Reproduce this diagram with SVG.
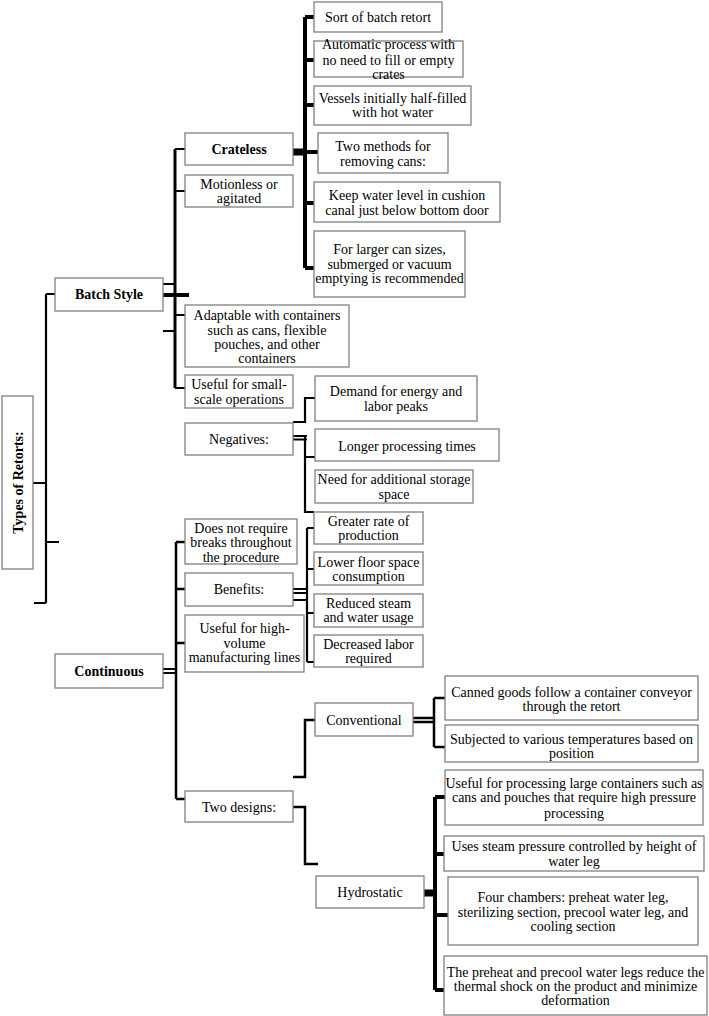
<svg xmlns="http://www.w3.org/2000/svg" width="709" height="1016" viewBox="0 0 709 1016">
<style>
.b{fill:#fff;stroke:#808080;stroke-width:1.3}
.t{font-family:"Liberation Serif","Times New Roman",serif;font-size:14px;fill:#000;text-anchor:middle}
.h{font-weight:bold}
.c{fill:none;stroke:#000;stroke-width:2.2;stroke-linejoin:miter;stroke-linecap:butt}
.k{stroke-width:4}
.m{stroke-width:3}
</style>
<rect width="709" height="1016" fill="#fff"/>
<g id="connectors">
<!-- root -->
<path class="c" d="M33,483H46M46,294V603M46,294H55M34,603H46M46,542H59"/>
<!-- batch style -->
<path class="c" d="M163,284H175M163,331H175M175,388H185M175,149H185M175,191H185M175,315H185"/>
<path class="c k" d="M163,295H189"/>
<path class="c m" d="M175,149V388"/>
<!-- crateless -->
<rect x="293" y="148.5" width="13" height="7" fill="#000"/>
<path class="c k" d="M305,17V268M305,17H314M305,60H314M305,105H314M305,152H318M305,203H314M305,268H314"/>
<!-- negatives -->
<path class="c" d="M293,422H305V398H315M293,436H307M293,439.5H307M305,436V512H314M305,457H315"/>
<!-- benefits -->
<path class="c" d="M293,589H306M293,593H306M293,600H306M307,528V662M307,528H314M307,569H314M307,613H314M307,662H314"/>
<!-- continuous -->
<path class="c" d="M163,669H176M163,673H176"/>
<path class="c" d="M176,542V799M176,542H185M176,589H185M176,643H185M176,799H185" style="stroke-width:2.5"/>
<!-- conventional -->
<path class="c" d="M293,777H305V720H315M413,718H434M413,722H434M434,698V747M434,698H445M434,747H445" style="stroke-width:2.5"/>
<!-- two designs -->
<path class="c" d="M293,807H305V864H318" style="stroke-width:2.5"/>
<!-- hydrostatic -->
<rect x="424" y="889.5" width="12" height="7" fill="#000"/>
<path class="c k" d="M435,797V990M435,797H445M435,854H444M435,915H448M435,990H444"/>
</g>
<g id="types">
<rect class="b" x="2" y="396" width="31" height="173"/>
<text class="t h" transform="translate(22.5,482.5) rotate(-90)">Types of Retorts:</text>
</g>
<g id="batch-style">
<rect class="b" x="55" y="278" width="108" height="33"/>
<text class="t h" x="109" y="299">Batch Style</text>
</g>
<g id="crateless">
<rect class="b" x="185" y="133" width="108" height="32"/>
<text class="t h" x="239" y="154">Crateless</text>
</g>
<g id="motionless">
<rect class="b" x="185" y="175" width="108" height="32"/>
<text class="t" x="239" y="188.5">Motionless or</text>
<text class="t" x="239" y="202.5">agitated</text>
</g>
<g id="adaptable">
<rect class="b" x="185" y="305" width="164" height="62"/>
<text class="t" x="267" y="320">Adaptable with containers</text>
<text class="t" x="267" y="334.5">such as cans, flexible</text>
<text class="t" x="267" y="348.5">pouches, and other</text>
<text class="t" x="267" y="362.5">containers</text>
</g>
<g id="useful-small">
<rect class="b" x="185" y="375" width="108" height="33"/>
<text class="t" x="239" y="389">Useful for small-</text>
<text class="t" x="239" y="404">scale operations</text>
</g>
<g id="negatives">
<rect class="b" x="185" y="423" width="108" height="32"/>
<text class="t" x="239" y="444">Negatives:</text>
</g>
<g id="sort">
<rect class="b" x="314" y="2" width="128" height="30"/>
<text class="t" x="378" y="22">Sort of batch retort</text>
</g>
<g id="automatic">
<rect class="b" x="314" y="41" width="149" height="36"/>
<text class="t" x="388.5" y="49">Automatic process with</text>
<text class="t" x="388.5" y="65">no need to fill or empty</text>
<text class="t" x="388.5" y="79">crates</text>
</g>
<g id="vessels">
<rect class="b" x="314" y="86" width="157" height="39"/>
<text class="t" x="392.5" y="103">Vessels initially half-filled</text>
<text class="t" x="392.5" y="117">with hot water</text>
</g>
<g id="two-methods">
<rect class="b" x="318" y="133" width="130" height="40"/>
<text class="t" x="383" y="151">Two methods for</text>
<text class="t" x="383" y="165.5">removing cans:</text>
</g>
<g id="keep-water">
<rect class="b" x="314" y="182" width="186" height="40"/>
<text class="t" x="407" y="200">Keep water level in cushion</text>
<text class="t" x="407" y="214.5">canal just below bottom door</text>
</g>
<g id="larger-cans">
<rect class="b" x="314" y="231" width="151" height="66"/>
<text class="t" x="389.5" y="254">For larger can sizes,</text>
<text class="t" x="389.5" y="269">submerged or vacuum</text>
<text class="t" x="389.5" y="283">emptying is recommended</text>
</g>
<g id="demand">
<rect class="b" x="315" y="376" width="162" height="45"/>
<text class="t" x="396" y="396">Demand for energy and</text>
<text class="t" x="396" y="410.5">labor peaks</text>
</g>
<g id="longer">
<rect class="b" x="315" y="429" width="184" height="32"/>
<text class="t" x="407" y="450.5">Longer processing times</text>
</g>
<g id="storage">
<rect class="b" x="315" y="470" width="158" height="33"/>
<text class="t" x="394" y="484">Need for additional storage</text>
<text class="t" x="394" y="498.5">space</text>
</g>
<g id="greater">
<rect class="b" x="314" y="512" width="109" height="32"/>
<text class="t" x="368.5" y="525.5">Greater rate of</text>
<text class="t" x="368.5" y="539.5">production</text>
</g>
<g id="lower-floor">
<rect class="b" x="314" y="552" width="109" height="33"/>
<text class="t" x="368.5" y="566.5">Lower floor space</text>
<text class="t" x="368.5" y="581">consumption</text>
</g>
<g id="reduced">
<rect class="b" x="314" y="594" width="109" height="33"/>
<text class="t" x="368.5" y="607.5">Reduced steam</text>
<text class="t" x="368.5" y="622">and water usage</text>
</g>
<g id="decreased">
<rect class="b" x="314" y="635" width="109" height="32"/>
<text class="t" x="368.5" y="649">Decreased labor</text>
<text class="t" x="368.5" y="662.5">required</text>
</g>
<g id="no-breaks">
<rect class="b" x="185" y="519" width="112" height="45"/>
<text class="t" x="241" y="532.5">Does not require</text>
<text class="t" x="241" y="547">breaks throughout</text>
<text class="t" x="241" y="561.5">the procedure</text>
</g>
<g id="benefits">
<rect class="b" x="185" y="573" width="108" height="33"/>
<text class="t" x="239" y="594">Benefits:</text>
</g>
<g id="high-volume">
<rect class="b" x="185" y="615" width="119" height="57"/>
<text class="t" x="244.5" y="632.5">Useful for high-</text>
<text class="t" x="244.5" y="647.5">volume</text>
<text class="t" x="244.5" y="661.5">manufacturing lines</text>
</g>
<g id="continuous">
<rect class="b" x="55" y="654" width="108" height="34"/>
<text class="t h" x="109" y="676">Continuous</text>
</g>
<g id="two-designs">
<rect class="b" x="185" y="791" width="108" height="31"/>
<text class="t" x="239" y="811.5">Two designs:</text>
</g>
<g id="conventional">
<rect class="b" x="315" y="703" width="98" height="33"/>
<text class="t" x="364" y="724.5">Conventional</text>
</g>
<g id="canned">
<rect class="b" x="445" y="676" width="253" height="44"/>
<text class="t" x="571.5" y="696.5">Canned goods follow a container conveyor</text>
<text class="t" x="571.5" y="710.5">through the retort</text>
</g>
<g id="subjected">
<rect class="b" x="445" y="725" width="253" height="37"/>
<text class="t" x="571.5" y="744">Subjected to various temperatures based on</text>
<text class="t" x="571.5" y="758">position</text>
</g>
<g id="hydrostatic">
<rect class="b" x="316" y="876" width="108" height="32"/>
<text class="t" x="370" y="897">Hydrostatic</text>
</g>
<g id="large-containers">
<rect class="b" x="445" y="770" width="258" height="55"/>
<text class="t" x="574" y="788">Useful for processing large containers such as</text>
<text class="t" x="574" y="802">cans and pouches that require high pressure</text>
<text class="t" x="574" y="817.5">processing</text>
</g>
<g id="steam-pressure">
<rect class="b" x="444" y="836" width="260" height="35"/>
<text class="t" x="574" y="851">Uses steam pressure controlled by height of</text>
<text class="t" x="574" y="865.5">water leg</text>
</g>
<g id="four-chambers">
<rect class="b" x="448" y="877" width="250" height="68"/>
<text class="t" x="573" y="901.5">Four chambers: preheat water leg,</text>
<text class="t" x="573" y="916.5">sterilizing section, precool water leg, and</text>
<text class="t" x="573" y="930.5">cooling section</text>
</g>
<g id="preheat">
<rect class="b" x="444" y="956" width="263" height="59"/>
<text class="t" x="575.5" y="976.5">The preheat and precool water legs reduce the</text>
<text class="t" x="575.5" y="991">thermal shock on the product and minimize</text>
<text class="t" x="575.5" y="1005">deformation</text>
</g>
</svg>
